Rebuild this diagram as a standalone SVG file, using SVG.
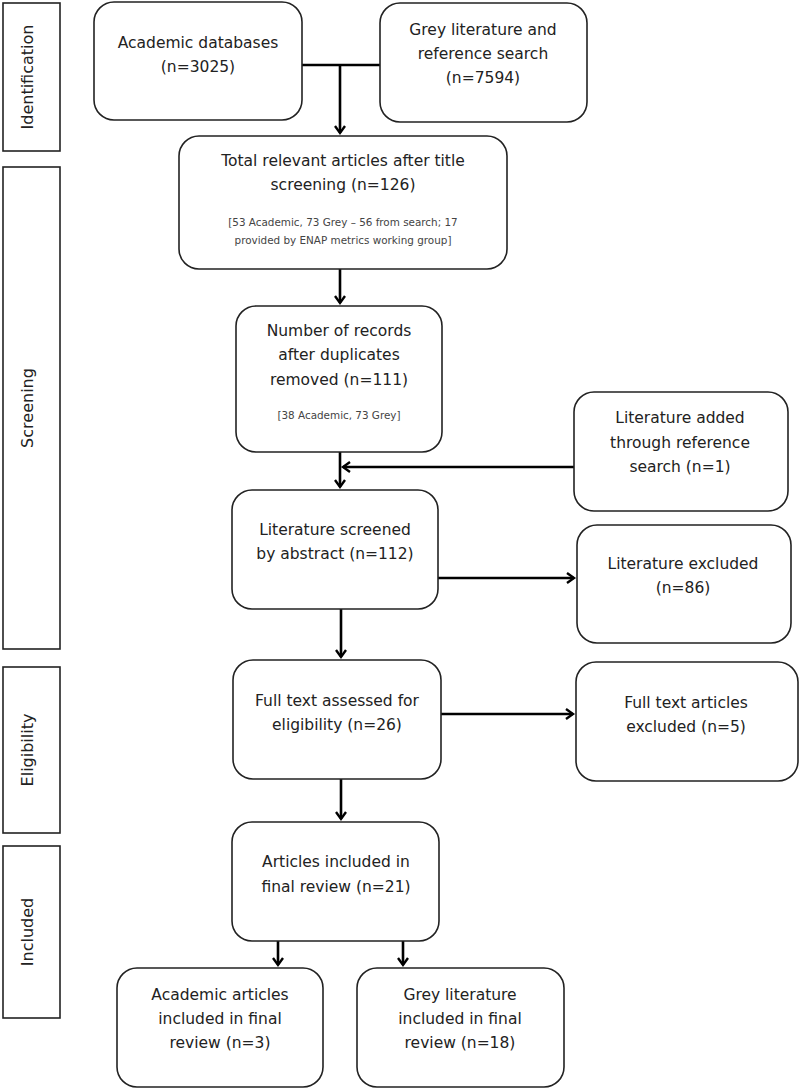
<svg xmlns="http://www.w3.org/2000/svg" width="800" height="1089" viewBox="0 0 800 1089">
<style>
.box{fill:#fff;stroke:#222;stroke-width:1.6}
.side{fill:#fff;stroke:#222;stroke-width:1.6}
.t{font-family:"DejaVu Sans",Verdana,sans-serif;font-size:15.5px;fill:#222;text-anchor:middle}
.v{font-family:"DejaVu Sans",Verdana,sans-serif;font-size:16px;fill:#222;text-anchor:middle}
.s{font-family:"DejaVu Sans",Verdana,sans-serif;font-size:10.4px;fill:#444;text-anchor:middle}
.c{fill:none;stroke:#000;stroke-width:2.6}
</style>
<defs>
<marker id="ah" markerWidth="12" markerHeight="12" refX="9" refY="6" orient="auto" markerUnits="userSpaceOnUse">
<path d="M2,1 L9,6 L2,11" fill="none" stroke="#000" stroke-width="2.4"/>
</marker>
</defs>
<g id="side-identification"><rect class="side" x="3" y="3" width="57" height="148"/><text class="v" transform="translate(33,77) rotate(-90)">Identification</text></g>
<g id="side-screening"><rect class="side" x="3" y="167" width="57" height="482"/><text class="v" transform="translate(33,408) rotate(-90)">Screening</text></g>
<g id="side-eligibility"><rect class="side" x="3" y="667" width="57" height="166"/><text class="v" transform="translate(33,750) rotate(-90)">Eligibility</text></g>
<g id="side-included"><rect class="side" x="3" y="846" width="57" height="172"/><text class="v" transform="translate(33,932) rotate(-90)">Included</text></g>

<g id="connectors">
<path class="c" d="M302,65 H380"/>
<path class="c" d="M340,65 V133" marker-end="url(#ah)"/>
<path class="c" d="M340,269 V303" marker-end="url(#ah)"/>
<path class="c" d="M340,452 V487" marker-end="url(#ah)"/>
<path class="c" d="M574,467 H343" marker-end="url(#ah)"/>
<path class="c" d="M438,578 H574" marker-end="url(#ah)"/>
<path class="c" d="M341,609 V657" marker-end="url(#ah)"/>
<path class="c" d="M441,714 H573" marker-end="url(#ah)"/>
<path class="c" d="M341,779 V819" marker-end="url(#ah)"/>
<path class="c" d="M278,941 V965" marker-end="url(#ah)"/>
<path class="c" d="M403,941 V965" marker-end="url(#ah)"/>
</g>

<g id="n-academic"><rect class="box" x="94" y="2" width="208" height="118" rx="20"/><text class="t" x="198" y="48">Academic databases</text><text class="t" x="198" y="72">(n=3025)</text></g>
<g id="n-grey"><rect class="box" x="380" y="3" width="207" height="119" rx="20"/><text class="t" x="483" y="35">Grey literature and</text><text class="t" x="483" y="59">reference search</text><text class="t" x="483" y="83">(n=7594)</text></g>
<g id="n-total"><rect class="box" x="179" y="136" width="328" height="133" rx="20"/><text class="t" x="343" y="166">Total relevant articles after title</text><text class="t" x="343" y="190">screening (n=126)</text><text class="s" x="343" y="226">[53 Academic,  73 Grey – 56 from search; 17</text><text class="s" x="343" y="244">provided by ENAP metrics working group]</text></g>
<g id="n-records"><rect class="box" x="236" y="306" width="206" height="146" rx="20"/><text class="t" x="339" y="336">Number of records</text><text class="t" x="339" y="360">after duplicates</text><text class="t" x="339" y="385">removed (n=111)</text><text class="s" x="339" y="419">[38 Academic,  73 Grey]</text></g>
<g id="n-added"><rect class="box" x="574" y="392" width="214" height="119" rx="20"/><text class="t" x="680" y="423">Literature added</text><text class="t" x="680" y="448">through reference</text><text class="t" x="680" y="472">search (n=1)</text></g>
<g id="n-screened"><rect class="box" x="232" y="490" width="206" height="119" rx="20"/><text class="t" x="335" y="535">Literature screened</text><text class="t" x="335" y="559">by abstract (n=112)</text></g>
<g id="n-excluded"><rect class="box" x="577" y="525" width="214" height="118" rx="20"/><text class="t" x="683" y="569">Literature excluded</text><text class="t" x="683" y="593">(n=86)</text></g>
<g id="n-fulltext"><rect class="box" x="233" y="660" width="208" height="119" rx="20"/><text class="t" x="337" y="706">Full text assessed for</text><text class="t" x="337" y="730">eligibility (n=26)</text></g>
<g id="n-ftexcluded"><rect class="box" x="576" y="662" width="222" height="119" rx="20"/><text class="t" x="686" y="708">Full text articles</text><text class="t" x="686" y="732">excluded (n=5)</text></g>
<g id="n-included"><rect class="box" x="232" y="822" width="207" height="119" rx="20"/><text class="t" x="336" y="867">Articles included in</text><text class="t" x="336" y="892">final review (n=21)</text></g>
<g id="n-acadinc"><rect class="box" x="117" y="968" width="206" height="119" rx="20"/><text class="t" x="220" y="1000">Academic articles</text><text class="t" x="220" y="1024">included in final</text><text class="t" x="220" y="1048">review (n=3)</text></g>
<g id="n-greyinc"><rect class="box" x="357" y="968" width="207" height="119" rx="20"/><text class="t" x="460" y="1000">Grey literature</text><text class="t" x="460" y="1024">included in final</text><text class="t" x="460" y="1048">review (n=18)</text></g>
</svg>
